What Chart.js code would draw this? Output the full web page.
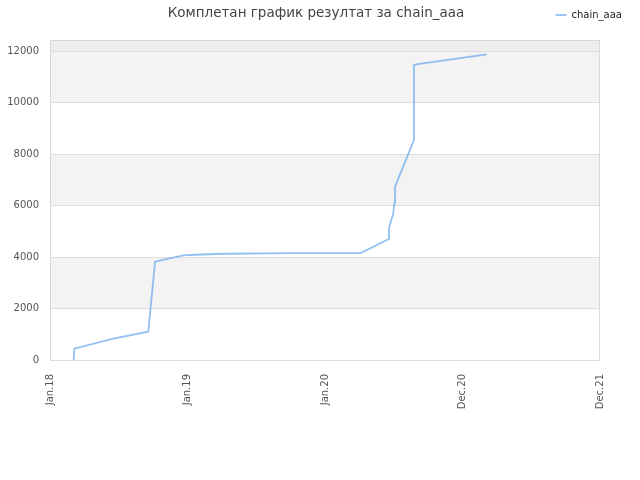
<!DOCTYPE html>
<html><head><meta charset="utf-8">
<script src="https://cdn.jsdelivr.net/npm/chart.js@4/dist/chart.umd.min.js"></script>
<style>html,body{margin:0;padding:0;background:#fff}#wrap{width:640px;height:480px}</style>
</head><body><div id="wrap"><canvas id="c" width="640" height="480"></canvas></div>
<script>
const titleText = 'Комплетан график резултат за chain_aaa';
const seriesName = 'chain_aaa';
const xLabels = ['Jan.18', 'Jan.19', 'Jan.20', 'Dec.20', 'Dec.21'];
const yTickValues = [0, 2000, 4000, 6000, 8000, 10000, 12000];
const yMax = 12430;
const xValues = [0.172, 0.177, 0.46, 0.715, 0.764, 0.969, 1.055, 1.212, 1.297, 1.769, 2.26, 2.465, 2.465, 2.497, 2.504, 2.509, 2.647, 2.647, 2.676, 3.176];
const yValues = [0, 440, 830, 1100, 3817, 4066, 4089, 4117, 4128, 4155, 4155, 4699, 5115, 5697, 6085, 6730, 8544, 11456, 11495, 11872];

const FONT = 'DejaVu Sans';

const bandPlugin = {
  id: 'bands',
  beforeDraw(chart) {
    const {ctx, chartArea: a, scales: {y}} = chart;
    ctx.save();
    ctx.fillStyle = '#ffffff';
    ctx.fillRect(0, 0, chart.width, chart.height);
    for (let i = 0; i < yTickValues.length; i++) {
      const lo = yTickValues[i];
      const hi = i + 1 < yTickValues.length ? yTickValues[i + 1] : y.max;
      let col = null;
      if (i === yTickValues.length - 1) col = '#eeeeee';
      else if (i % 2 === 1) col = '#f3f3f3';
      if (!col) continue;
      const yTop = y.getPixelForValue(hi);
      const yBot = y.getPixelForValue(lo);
      ctx.fillStyle = col;
      ctx.fillRect(a.left, yTop, a.right - a.left, yBot - yTop);
    }
    ctx.strokeStyle = '#d8d8d8';
    ctx.lineWidth = 1;
    ctx.strokeRect(a.left + 0.5, a.top + 0.5, a.right - a.left - 1, a.bottom - a.top);
    ctx.restore();
  }
};

new Chart(document.getElementById('c'), {
  type: 'line',
  data: {
    datasets: [{
      label: seriesName,
      data: xValues.map((x, i) => ({x: x, y: yValues[i]})),
      borderColor: 'rgba(100,165,235,0.7)',
      backgroundColor: 'rgba(100,165,235,0.7)',
      borderWidth: 1.8,
      pointRadius: 0,
      tension: 0,
      fill: false
    }]
  },
  options: {
    responsive: false,
    animation: false,
    devicePixelRatio: 1,
    layout: {padding: {top: 0, right: 8, left: 0, bottom: 0}},
    plugins: {
      title: {
        display: true,
        text: titleText,
        color: '#444444',
        weight: 500,
        font: {family: FONT, size: 13.5, weight: 'normal', lineHeight: 1.2},
        padding: {top: -24.6, bottom: 18.4}
      },
      legend: {
        position: 'top',
        align: 'end',
        labels: {
          usePointStyle: true,
          pointStyle: 'line',
          pointStyleWidth: 11,
          color: '#222222',
          font: {family: FONT, size: 10},
          padding: 10
        }
      },
      tooltip: {enabled: false}
    },
    scales: {
      x: {
        type: 'linear',
        min: 0,
        max: 4,
        grid: {display: false, drawTicks: false},
        border: {display: false},
        ticks: {
          stepSize: 1,
          autoSkip: false,
          minRotation: 90,
          maxRotation: 90,
          padding: 14,
          color: '#555555',
          font: {family: FONT, size: 10},
          callback: (v) => xLabels[v] !== undefined ? xLabels[v] : ''
        },
        afterFit: (s) => { s.height = 120; s.paddingRight = 40; }
      },
      y: {
        type: 'linear',
        min: 0,
        max: yMax,
        grid: {color: '#dddddd', drawTicks: false},
        border: {display: false},
        ticks: {
          padding: 11,
          color: '#555555',
          font: {family: FONT, size: 10},
          callback: (v) => String(v)
        },
        afterBuildTicks: (s) => { s.ticks = yTickValues.map(v => ({value: v})); },
        afterFit: (s) => { s.width = 50; }
      }
    }
  },
  plugins: [bandPlugin]
});
</script>
</body></html>
